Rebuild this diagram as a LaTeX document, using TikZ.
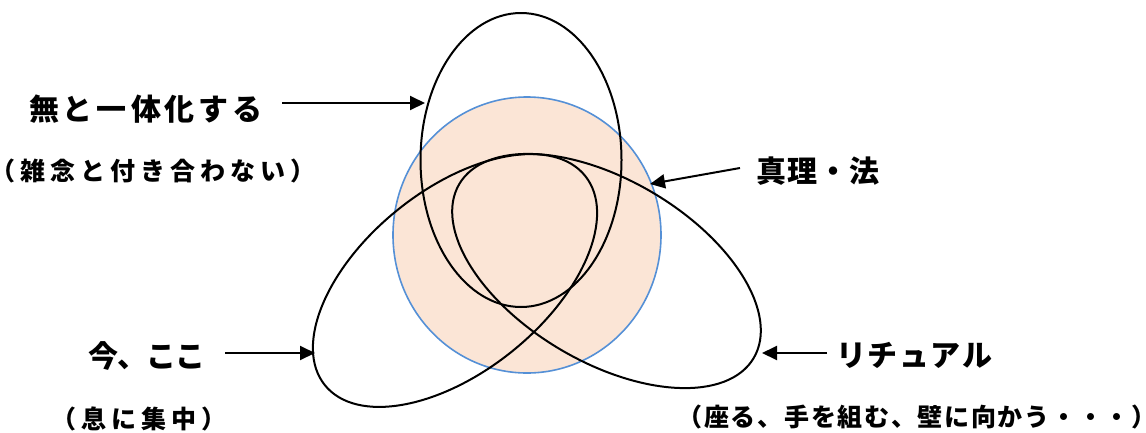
\documentclass[tikz,border=0pt]{standalone}
\usepackage{fontspec}
\newfontfamily\jp{Noto Sans CJK JP}
\usetikzlibrary{arrows.meta}
\definecolor{peach}{HTML}{FBE5D6}
\definecolor{cblue}{HTML}{5590D6}
\makeatletter
\def\trk@end{\trk@end}
\newcommand\trk[2]{\def\trk@k{#1}\trk@a#2\trk@end}
\def\trk@a#1{\ifx#1\trk@end\else#1\expandafter\trk@b\fi}
\def\trk@b#1{\ifx#1\trk@end\else\kern\trk@k#1\expandafter\trk@b\fi}
\makeatother
\begin{document}
\begin{tikzpicture}[x=1pt,y=-1pt,
  loop/.style={draw=black,line width=2pt},
  arr/.style={line width=2pt,-{Triangle[length=15pt,width=14pt]}},
  big/.style={font=\jp\bfseries\fontsize{30}{36}\selectfont,inner sep=0pt},
  small/.style={font=\jp\bfseries\fontsize{25}{30}\selectfont,inner sep=0pt}]
\useasboundingbox (0,0) rectangle (1146,432);
\fill[peach] (527,235) ellipse [x radius=134pt, y radius=138pt];
\draw[cblue, line width=1.6pt] (527,235) ellipse [x radius=134pt, y radius=138pt];
\draw[loop] (521,160) ellipse [x radius=100.5pt, y radius=147pt];
\draw[loop, rotate around={38.8:(455,280.5)}] (455,280.5) ellipse [x radius=167pt, y radius=91pt];
\draw[loop, rotate around={-30.6:(606.5,271)}] (606.5,271) ellipse [x radius=171pt, y radius=91pt];

\node[big] (l1) at (146,109) {\trk{4pt}{無と一体化する}};
\node[small] (p1) at (153,171) {\kern-11pt\trk{5pt}{（雑念と付き合わない）}\kern-11pt};
\node[big] (l2) at (818,171) {\trk{1pt}{真理・法}};
\node[big] (l3) at (147,356) {\trk{-1pt}{今、ここ}};
\node[small] (p3) at (139,419) {\kern-11pt\trk{5pt}{（息に集中）}\kern-11pt};
\node[big] (l4) at (914,355) {\trk{1.5pt}{リチュアル}};
\node[small] (p4) at (917,417) {\kern-11pt\trk{1.7pt}{（座る、手を組む、壁に向かう・・・）}\kern-11pt};

\coordinate (a1s) at (282,103); \coordinate (a1e) at (425,103);
\coordinate (a2s) at (740,168); \coordinate (a2e) at (650,184);
\coordinate (a3s) at (225,353); \coordinate (a3e) at (315,353);
\coordinate (a4s) at (827,353); \coordinate (a4e) at (762,353);
\draw[arr] (a1s) -- (a1e);
\draw[arr] (a2s) -- (a2e);
\draw[arr] (a3s) -- (a3e);
\draw[arr] (a4s) -- (a4e);
\end{tikzpicture}
\end{document}
